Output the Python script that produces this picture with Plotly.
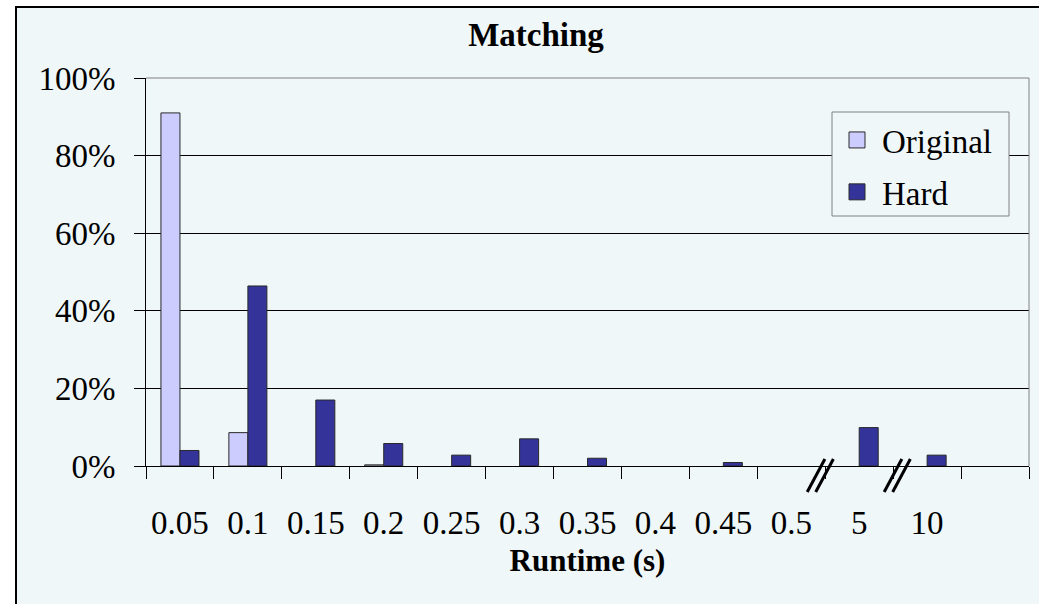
import plotly.graph_objects as go

categories = ["0.05", "0.1", "0.15", "0.2", "0.25", "0.3", "0.35", "0.4",
              "0.45", "0.5", "5", "10", " "]
original = [91, 8.6, None, 0.3, None, None, None, None, None, None, None, None, None]
hard = [4.0, 46.4, 17.0, 5.8, 2.8, 7.0, 2.0, None, 0.9, None, 9.9, 2.8, None]
y_ticks = [0, 20, 40, 60, 80, 100]
y_tick_labels = ["0%", "20%", "40%", "60%", "80%", "100%"]
series_names = ["Original", "Hard"]
series_colors = ["#CCCCFF", "#333399"]

BG = "#EFF7F9"
FONT = "Liberation Serif"
W, H = 1039, 604
L, R, T, B = 146, 10, 78, 138
PW, PH = W - L - R, H - T - B


def px_x(p):
    return (p - L) / PW


def px_y(p):
    return (H - B - p) / PH


fig = go.Figure()
for name, vals, col in zip(series_names, [original, hard], series_colors):
    fig.add_trace(go.Bar(
        x=categories, y=vals, name=name, showlegend=False,
        marker=dict(color=col, line=dict(color="#2a2a2a", width=1)),
    ))
    # legend entry with larger square swatch
    fig.add_trace(go.Scatter(
        x=[None], y=[None], mode="markers", name=name, legendgroup=name,
        marker=dict(symbol="square", size=18, color=col,
                    line=dict(color="#2a2a2a", width=1)),
    ))

shapes = [
    # outer chart frame
    dict(type="rect", xref="paper", yref="paper", layer="below",
         x0=px_x(16), x1=px_x(1060), y0=px_y(640), y1=px_y(7),
         fillcolor=BG, line=dict(color="black", width=2)),
    # plot area border (top and right, gray)
    dict(type="line", xref="paper", yref="paper", layer="above",
         x0=0, x1=1, y0=1, y1=1, line=dict(color="#808080", width=1)),
    dict(type="line", xref="paper", yref="paper", layer="above",
         x0=1, x1=1, y0=0, y1=1, line=dict(color="#808080", width=1)),
    # legend box
    dict(type="rect", xref="paper", yref="paper", layer="above",
         x0=px_x(832), x1=px_x(1009), y0=px_y(216), y1=px_y(112),
         fillcolor=BG, line=dict(color="#808080", width=1)),
]
# axis break marks "//" between 0.5|5 and 5|10
for base in (9.5, 10.5):
    off = -0.265 if base == 9.5 else -0.132
    for d in (0.0, 0.125):
        shapes.append(dict(
            type="line", xref="x", yref="paper", layer="above",
            x0=base + off + d, x1=base + off + d + 0.26,
            y0=px_y(492), y1=px_y(459),
            line=dict(color="black", width=3)))

fig.update_layout(
    width=W, height=H,
    margin=dict(l=L, r=R, t=T, b=B, pad=0),
    paper_bgcolor="white", plot_bgcolor="rgba(0,0,0,0)",
    font=dict(family=FONT, size=33, color="black"),
    barmode="group", bargap=0.44, bargroupgap=0,
    title=dict(text="<b>Matching</b>", font=dict(family=FONT, size=33),
               x=px_x(536), xref="paper", xanchor="center",
               y=1 - 34 / H, yref="container", yanchor="middle"),
    legend=dict(x=px_x(832), y=px_y(112), xanchor="left", yanchor="top",
                bgcolor="rgba(0,0,0,0)", borderwidth=0,
                font=dict(family=FONT, size=33),
                traceorder="grouped", tracegroupgap=6,
                itemwidth=40),
    shapes=shapes,
)
fig.update_xaxes(
    type="category", categoryorder="array", categoryarray=categories,
    range=[-0.5, len(categories) - 0.5],
    showline=True, linecolor="black", linewidth=1,
    ticks="outside", tickson="boundaries", ticklen=12, tickcolor="black",
    tickwidth=1, showgrid=False, tickfont=dict(size=33),
    ticklabelstandoff=27,
    title=dict(text="<b>Runtime (s)</b>", font=dict(size=31), standoff=9),
)
fig.update_yaxes(
    range=[0, 100], tickmode="array", tickvals=y_ticks, ticktext=y_tick_labels,
    showline=True, linecolor="black", linewidth=1,
    ticks="outside", ticklen=11, tickcolor="black", tickwidth=1,
    showgrid=True, gridcolor="black", gridwidth=1, zeroline=False,
    tickfont=dict(size=33), ticklabelstandoff=12,
)

fig.write_html("out.html")
